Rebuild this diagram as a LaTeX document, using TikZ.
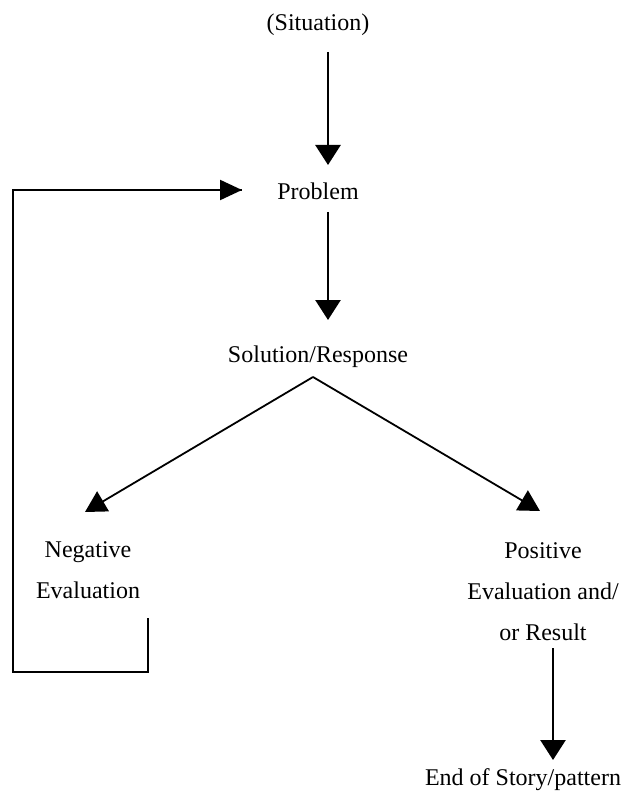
\documentclass[tikz,border=0pt]{standalone}
\usepackage{fontspec}
\setmainfont{Liberation Serif}
\usetikzlibrary{arrows.meta}
\begin{document}
\begin{tikzpicture}[x=1pt,y=-1pt,
  lbl/.style={inner sep=0pt,align=center,font=\fontsize{24}{41}\selectfont},
  arr/.style={line width=2.6pt,-{Triangle[length=20pt,width=25pt]}},
  diag/.style={line width=1.8pt,-{Triangle[length=21pt,width=23pt]}},
  loopline/.style={line width=2.2pt}]
\useasboundingbox (0,0) rectangle (628,794);
\node[lbl] (sit) at (318,25) {(Situation)};
\node[lbl] (prob) at (318,191) {Problem};
\node[lbl] (sol) at (318,357) {Solution/Response};
\node[lbl] (neg) at (88,570) {Negative\\Evaluation};
\node[lbl] (pos) at (543,592) {Positive\\Evaluation and/\\or Result};
\node[lbl] (end) at (523,780) {End of Story/pattern};
% connector points
\coordinate (s1) at (328,52);
\coordinate (p1) at (328,165);
\coordinate (p2) at (328,212);
\coordinate (q1) at (328,320);
\coordinate (apex) at (313,377);
\coordinate (n1) at (85,512);
\coordinate (r1) at (540,511);
\coordinate (r2) at (553,648);
\coordinate (e1) at (553,760);
\coordinate (b0) at (148,618);
\coordinate (b1) at (148,672);
\coordinate (b2) at (13,672);
\coordinate (b3) at (13,190);
\coordinate (pin) at (242,190);
\draw[arr] (s1) -- (p1);
\draw[arr] (p2) -- (q1);
\draw[diag] (apex) -- (n1);
\draw[diag] (apex) -- (r1);
\draw[arr] (r2) -- (e1);
\draw[loopline,line join=miter] (b0) -- (b1) -- (b2) -- (b3) -- (pin);
\draw[loopline,-{Triangle[length=22pt,width=20pt]}] (b3) -- (pin);
\end{tikzpicture}
\end{document}
